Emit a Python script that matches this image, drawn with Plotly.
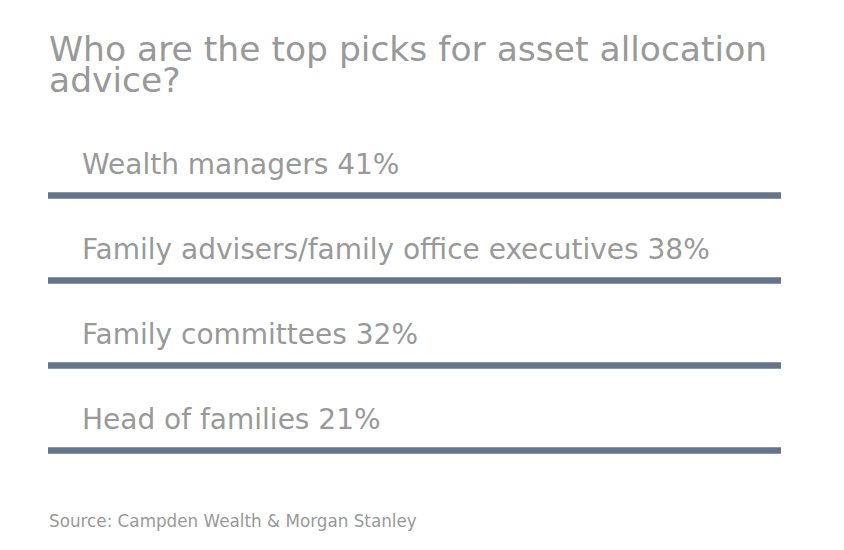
import plotly.graph_objects as go

categories = ["Wealth managers", "Family advisers/family office executives",
              "Family committees", "Head of families"]
percent = [41, 38, 32, 21]
track = [100, 100, 100, 100]
title_lines = ["Who are the top picks for asset allocation", "advice?"]
source = "Source: Campden Wealth & Morgan Stanley"

labels = [f"{c} {p}%" for c, p in zip(categories, percent)]

FONT = "Verdana, DejaVu Sans, sans-serif"
GRAY = "#999999"
BAR = "#64748a"

fig = go.Figure(go.Bar(
    x=track, y=categories, orientation="h",
    marker=dict(color=BAR, line=dict(width=0)),
    width=0.076, hoverinfo="skip",
))

for lab, cat in zip(labels, categories):
    fig.add_annotation(
        x=0, y=cat, xref="x", yref="y", text=lab, showarrow=False,
        xanchor="left", yanchor="middle", xshift=32, yshift=31,
        font=dict(family=FONT, size=28, color=GRAY),
    )

for line, shift in zip(title_lines, [104.5, 72.9]):
    fig.add_annotation(
        x=0, y=1, xref="paper", yref="paper", text=line, showarrow=False,
        xanchor="left", yanchor="middle", yshift=shift, xshift=-1,
        font=dict(family=FONT, size=34.5, color=GRAY),
    )

fig.add_annotation(
    x=0, y=0, xref="paper", yref="paper", text=source,
    showarrow=False, xanchor="left", yanchor="middle", yshift=-28, xshift=-1,
    font=dict(family=FONT, size=16.8, color=GRAY),
)

fig.update_layout(
    width=844, height=550,
    margin=dict(l=40, r=71, t=144.5, b=64.5),
    paper_bgcolor="white", plot_bgcolor="white",
    showlegend=False,
    xaxis=dict(range=[0, 100], visible=False, fixedrange=True),
    yaxis=dict(range=[3.5, -0.5], visible=False, fixedrange=True),
)

fig.write_html("out.html")
